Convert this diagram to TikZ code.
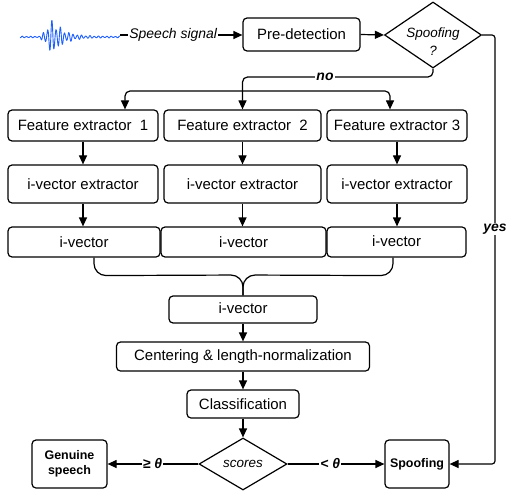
\documentclass[tikz,border=0pt]{standalone}
\usepackage{fontspec}
\setmainfont{Liberation Sans}
\usetikzlibrary{shapes.geometric,arrows.meta,calc}
\definecolor{wavecol}{RGB}{30,95,255}
\begin{document}
\begin{tikzpicture}[x=1bp,y=-1bp, line width=1.2bp,
  declare function={env(\t)=(\t<40)*0.8 + and(\t>=40,\t<53)*(0.8+18*(\t-40)/13) + (\t>=53)*(0.8+18*exp(-(\t-53)/11));
                    wmodu(\t)=0.75+0.25*sin(37*\t);},
  box/.style={draw, rounded corners=4bp, inner sep=0pt, font=\fontsize{15}{18}\selectfont},
  sbox/.style={draw, rounded corners=4bp, inner sep=0pt, align=center, font=\fontsize{12.5}{15}\selectfont\bfseries},
  dia/.style={draw, diamond, inner sep=0pt},
  arr/.style={-{Triangle[length=9bp,width=8bp]}},
  lab/.style={font=\fontsize{14}{17}\selectfont\itshape, fill=white, inner sep=1bp},
  blab/.style={font=\fontsize{14}{17}\selectfont\bfseries\itshape, fill=white, inner sep=1bp}]
\useasboundingbox (0,0) rectangle (506,493);

% waveform
\draw[wavecol, line width=0.9bp] plot[domain=20:120, samples=401] (\x, {37 - env(\x)*wmodu(\x)*sin(85*\x)});
\coordinate (wend) at (120,35);

% top row
\node[box, minimum width=117bp, minimum height=33bp] (pre) at (301.5,34.5) {Pre-detection};
\node[dia, minimum width=97bp, minimum height=66bp] (spoof) at (433,35) {};
\node[align=center, font=\fontsize{13.5}{18}\selectfont\itshape, inner sep=0pt] (spooft) at (433,42) {Spoofing\\?};

% feature extractors
\node[box, minimum width=150bp, minimum height=31bp] (fe1) at (83,125.5) {Feature extractor\ \ 1};
\node[box, minimum width=157bp, minimum height=31bp] (fe2) at (242.5,125.5) {Feature extractor\ \ 2};
\node[box, minimum width=140bp, minimum height=31bp] (fe3) at (397,125.5) {Feature extractor 3};

% i-vector extractors
\node[box, minimum width=150bp, minimum height=38bp] (ie1) at (83,184) {i-vector extractor};
\node[box, minimum width=157bp, minimum height=38bp] (ie2) at (242.5,184) {i-vector extractor};
\node[box, minimum width=140bp, minimum height=38bp] (ie3) at (397,184) {i-vector extractor};

% i-vectors
\node[box, minimum width=152bp, minimum height=30bp] (iv1) at (84,242) {i-vector};
\node[box, minimum width=165bp, minimum height=30bp] (iv2) at (243.5,242) {i-vector};
\node[box, minimum width=139bp, minimum height=30bp] (iv3) at (396.5,242) {\raisebox{2bp}{i-vector}};

% lower chain
\node[box, minimum width=148bp, minimum height=27bp] (ivm) at (243,309.5) {\raisebox{2bp}{i-vector}};
\node[box, minimum width=253bp, minimum height=29bp] (cen) at (243,356.5) {Centering \& length-normalization};
\node[box, minimum width=112bp, minimum height=28bp] (cls) at (243,404) {Classification};
\node[dia, minimum width=88bp, minimum height=52bp] (sc) at (243,464) {};
\node[font=\fontsize{13.5}{16}\selectfont\itshape, inner sep=0pt] (sct) at (243,464) {scores};
\node[sbox, minimum width=75bp, minimum height=48bp] (gen) at (69.5,464) {Genuine\\speech};
\node[sbox, minimum width=64bp, minimum height=48bp] (spf) at (417,464) {Spoofing};

% connectors top
\draw[arr] (wend) -- node[lab, pos=0.435] (sig) {Speech signal} (pre.west |- wend);
\draw[arr] (pre.east) -- (spoof.west);
\coordinate (nc) at (433,77);
\draw[arr, rounded corners=5bp] (spoof.south) -- (nc) -| (fe2.north);
\node[blab] (no) at (325,77) {no};
\coordinate (b1) at (125,91);
\coordinate (b3) at (390,91);
\draw[{Triangle[length=9bp,width=8bp]}-{Triangle[length=9bp,width=8bp]}, rounded corners=5bp]
  (fe1.north -| b1) -- (b1) -- (b3) -- (fe3.north -| b3);

% column arrows
\foreach \i in {1,2,3} {
  \draw[arr] (fe\i.south) -- (ie\i.north);
  \draw[arr] (ie\i.south) -- (ie\i.south |- iv\i.north);
}

% brace merge
\coordinate (bj) at (243,275);
\draw[rounded corners=12bp] ($(iv1.south)+(10,0)$) -- ($(iv1.south)+(10,18)$) -- (bj) -- (ivm.north);
\draw[rounded corners=12bp] ($(iv3.south)+(-3.5,0)$) -- ($(iv3.south)+(-3.5,18)$) -- (bj) -- (ivm.north);

\draw[arr] (ivm.south) -- (cen.north);
\draw[arr] (cen.south) -- (cls.north);
\draw[arr] (cls.south) -- (sc.north);

\draw[arr] (sc.west) -- node[blab, pos=0.505] (ge) {≥ θ} (gen.east);
\draw[arr] (sc.east) -- node[blab, pos=0.44] (lt) {< θ} (spf.west);

\coordinate (yc) at (495,35);
\coordinate (yd) at (495,464);
\draw[arr, rounded corners=3bp] (spoof.east) -- (yc) -- (yd) -- (spf.east);
\node[blab] (yes) at (495,229) {yes};
\end{tikzpicture}
\end{document}
